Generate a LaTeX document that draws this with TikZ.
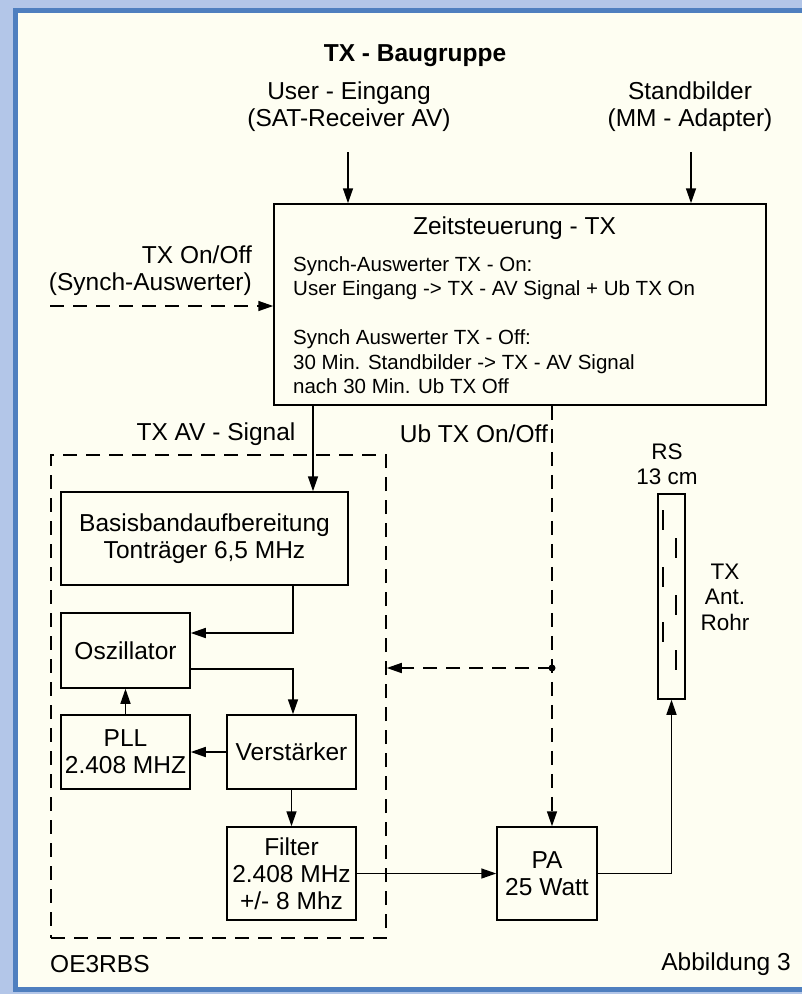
\documentclass[tikz,border=0pt]{standalone}
\usepackage{fontspec}
\setmainfont{Liberation Sans}
\usepackage{xcolor}
\usepackage{tikz}
\usetikzlibrary{arrows.meta,positioning}

\definecolor{panelbg}{HTML}{FEFEF2}
\definecolor{outerbg}{HTML}{B3C6E8}
\definecolor{frameblue}{HTML}{4F7FBF}

\begin{document}
\begin{tikzpicture}[
  x=1pt, y=-1pt,
  every node/.style={inner sep=0pt},
  big/.style={font=\fontsize{24.5}{27}\selectfont},
  small/.style={font=\fontsize{20.5}{24.5}\selectfont},
  block/.style={draw,line width=1.5pt,align=center,big},
  group/.style={draw,line width=1.5pt,dash pattern=on 14pt off 9pt},
  arrow/.style={-{Triangle[length=15pt,width=10pt]}, line width=1.5pt},
  dasharrow/.style={arrow, dash pattern=on 14pt off 9pt},
  label/.style={big,align=center}
]
\useasboundingbox (0,0) rectangle (802,994);
\clip (0,0) rectangle (802,994);
\fill[outerbg] (0,0) rectangle (802,994);
\draw[frameblue,line width=5pt,fill=panelbg] (15.5,10.5) rectangle (820,989);

% title and inputs
\node[big,font=\fontsize{24.5}{27}\selectfont\bfseries] (title) at (415,56) {TX - Baugruppe};
\node[label] (userin) at (349,107) {User - Eingang\\(SAT-Receiver AV)};
\node[label] (standin) at (690,107) {Standbilder\\(MM - Adapter)};
\node[label,align=right,anchor=east] (txonoff) at (252,271) {TX On/Off\\(Synch-Auswerter)};

% timing unit
\node[block, minimum width=492pt, minimum height=201pt] (zeit) at (520,304.5) {};
\node[big] (zeithead) at (514.5,228.5) {Zeitsteuerung - TX};
\node[small,align=left,anchor=west] (zeitbody) at (293,325)
  {Synch-Auswerter TX - On:\\User Eingang -> TX - AV Signal + Ub TX On\\[24.5pt]
   Synch Auswerter TX - Off:\\30 Min. Standbilder -> TX - AV Signal\\nach 30 Min. Ub TX Off};

\coordinate (userdrop) at (348,152);
\coordinate (standdrop) at (691,152);
\coordinate (onoffstart) at (50,306);
\draw[arrow] (userdrop) -- (userdrop |- zeit.north);
\draw[arrow] (standdrop) -- (standdrop |- zeit.north);
\draw[dasharrow] (onoffstart) -- (onoffstart -| zeit.west);

% transmitter group
\node[group, minimum width=335pt, minimum height=483pt] (grp) at (218.5,696.5) {};
\node[label] (avsig) at (216,434) {TX AV - Signal};
\node[label,anchor=east] (ubsig) at (548,434) {Ub TX On/Off};

\node[block, minimum width=287pt, minimum height=93pt] (basis) at (204.5,538.5) {Basisbandaufbereitung\\Tonträger 6,5 MHz};
\node[block, minimum width=129pt, minimum height=75pt] (osz) at (125.5,650.5) {Oszillator};
\node[block, minimum width=129pt, minimum height=74pt] (pll) at (125.5,752) {PLL\\2.408 MHZ};
\node[block, minimum width=129pt, minimum height=74pt] (verst) at (291.5,752) {Verstärker};
\node[block, minimum width=129pt, minimum height=93pt] (filter) at (291.5,873.5) {Filter\\2.408 MHz\\+/- 8 Mhz};
\node[block, minimum width=100pt, minimum height=93pt] (pa) at (547,873.5) {PA\\25 Watt};

\coordinate (avcol) at (313,430);
\coordinate (bend1) at (293,633);
\coordinate (bend2) at (293,669);
\draw[arrow] (zeit.south -| avcol) -- (basis.north -| avcol);
\draw[arrow] (basis.south -| bend1) |- (osz.east |- bend1);
\draw[arrow] (osz.east |- bend2) -| (verst.north -| bend2);
\draw[arrow] (pll.north) -- (osz.south);
\draw[arrow] (verst.west) -- (pll.east);
\draw[arrow] (verst.south) -- (filter.north);
\draw[arrow] (filter.east) -- (pa.west);

% supply switching
\coordinate (ubjoin) at (552,668);
\draw[dasharrow] (zeit.south -| ubjoin) -- (pa.north -| ubjoin);
\draw[dasharrow] (ubjoin) -- (ubjoin -| grp.east);
\fill (ubjoin) circle (3.5pt);

% antenna
\node[draw,line width=1.5pt,minimum width=27pt,minimum height=205pt] (rohr) at (671.5,596.5) {};
\foreach \ya in {510,567,622}
  \draw[line width=1.5pt] (663,\ya) -- (663,{\ya+20});
\foreach \ya in {538,595,650}
  \draw[line width=1.5pt] (676,\ya) -- (676,{\ya+20});
\node[label,font=\fontsize{22.5}{25}\selectfont] (rslabel) at (667,464) {RS\\13 cm};
\node[label,font=\fontsize{22.5}{25.5}\selectfont] (antlabel) at (725,597) {TX\\Ant.\\Rohr};
\draw[arrow] (pa.east) -| (rohr.south);

% footer
\node[big,anchor=west] (call) at (50,964) {OE3RBS};
\node[big,anchor=east] (fig) at (791,964) {Abbildung 3};
\end{tikzpicture}
\end{document}
